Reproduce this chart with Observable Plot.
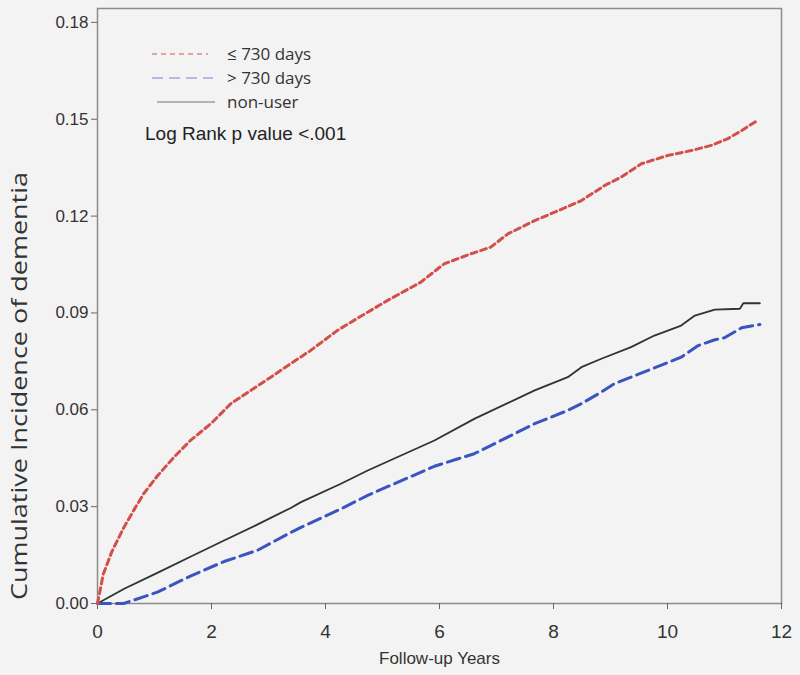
<!DOCTYPE html>
<html><head><meta charset="utf-8">
<script src="https://cdn.jsdelivr.net/npm/d3@7"></script>
<script src="https://cdn.jsdelivr.net/npm/@observablehq/plot@0.6"></script>
<style>
html,body{margin:0;padding:0;background:#f3f3f3;}
#chart{width:800px;height:675px;}
g[aria-label="x-axis tick label"]{font-family:"Liberation Sans Narrow","Liberation Sans",Arial,sans-serif;font-size:19px;}
g[aria-label="y-axis tick label"]{font-family:"Liberation Sans",Arial,sans-serif;font-size:17px;}
</style></head><body><div id="chart"></div>
<script>
// ---- data ----
const seriesNames = ["≤ 730 days", "> 730 days", "non-user"];
const shortYears = [0,0.1,0.25,0.46,0.64,0.81,1.05,1.34,1.63,1.99,2.34,2.69,3.04,3.39,3.74,4.21,4.50,5.09,5.67,6.08,6.55,6.90,7.20,7.67,8.02,8.49,8.90,9.19,9.54,10.01,10.42,10.77,11.06,11.30,11.53,11.59];
const shortIncidence = [0,0.009,0.016,0.0235,0.029,0.034,0.0395,0.0453,0.0505,0.0557,0.0619,0.066,0.0701,0.0743,0.0784,0.0846,0.0877,0.0939,0.0995,0.1052,0.1083,0.1104,0.1145,0.1186,0.1212,0.1248,0.1295,0.1321,0.1362,0.1388,0.1403,0.1419,0.144,0.1465,0.1491,0.1496];
const longYears = [0,0.46,1.05,1.63,2.22,2.81,3.39,3.57,4.27,4.74,5.91,6.61,7.08,7.67,8.25,8.49,8.84,9.07,9.66,10.24,10.54,10.83,11.0,11.30,11.62];
const longIncidence = [0,0,0.0035,0.0085,0.013,0.0165,0.022,0.0236,0.0293,0.0335,0.0425,0.0464,0.0505,0.0557,0.0598,0.0619,0.0655,0.0681,0.0722,0.0763,0.0799,0.0817,0.0823,0.0854,0.0864];
const nonUserYears = [0,0.46,1.05,1.63,2.22,2.81,3.39,3.57,4.27,4.74,5.91,6.61,7.67,8.25,8.49,8.84,9.36,9.77,10.24,10.48,10.83,11.27,11.33,11.62];
const nonUserIncidence = [0,0.0045,0.0095,0.0145,0.0195,0.0245,0.0296,0.0314,0.0371,0.0412,0.0505,0.0572,0.066,0.0701,0.0732,0.0758,0.0794,0.083,0.0861,0.0892,0.091,0.0913,0.093,0.093];
const yTicks = [0,0.03,0.06,0.09,0.12,0.15,0.18];
const xTicks = [0,2,4,6,8,10,12];
const yLabel = "Cumulative Incidence of dementia";
const xLabel = "Follow-up Years";
const testNote = "Log Rank p value <.001";

const rows = (name, xs, ys) => xs.map((x, i) => ({series: name, year: x, value: ys[i]}));
const shortRows = rows(seriesNames[0], shortYears, shortIncidence);
const longRows = rows(seriesNames[1], longYears, longIncidence);
const nonUserRows = rows(seriesNames[2], nonUserYears, nonUserIncidence);

const colors = {short: "#d1504a", long: "#3a55c0", nonuser: "#2c3430"};

const chart = Plot.plot({
  width: 800, height: 675,
  marginLeft: 97, marginRight: 19, marginTop: 8, marginBottom: 72,
  style: {background: "#f3f3f3", fontFamily: "Liberation Sans, Arial, sans-serif", fontSize: "17px", color: "#333"},
  x: {domain: [0, 12]},
  y: {domain: [0, 0.1843]},
  marks: [
    Plot.frame({stroke: "#8c8c8c", strokeWidth: 1.5}),
    Plot.axisY(yTicks, {tickFormat: d3.format(".2f"), tickSize: 6, tickPadding: 3, label: null, stroke: "#666"}),
    Plot.axisX(xTicks, {tickFormat: d => String(d), tickSize: 6, tickPadding: 15, label: null, stroke: "#666"}),
    Plot.line(nonUserRows, {x: "year", y: "value", stroke: colors.nonuser, strokeWidth: 1.8}),
    Plot.line(longRows, {x: "year", y: "value", stroke: colors.long, strokeWidth: 3, strokeDasharray: "13,6"}),
    Plot.line(shortRows, {x: "year", y: "value", stroke: colors.short, strokeWidth: 3, strokeDasharray: "6,4"}),
    Plot.text([xLabel], {text: d => d, frameAnchor: "bottom", dy: 60, fontSize: 17, fontFamily: "Liberation Sans Narrow, Liberation Sans, Arial", fill: "#333"})
  ]
});
document.getElementById("chart").appendChild(chart);

const svg = d3.select(chart);
// y title, stretched along its length as in the reference
svg.append("text")
  .attr("transform", "translate(19,386) rotate(-90)")
  .attr("text-anchor", "middle").attr("dy", "0.35em")
  .attr("font-family", "Open Sans").attr("font-size", 22).attr("fill", "#333")
  .attr("textLength", 428).attr("lengthAdjust", "spacingAndGlyphs")
  .text(yLabel);

// legend (inside plot, top-left)
const lg = svg.append("g").attr("text-anchor", "start");
const legendItems = [
  {name: seriesNames[0], color: "#e3a3a0", dash: "5,4", w: 2, x1: 152, x2: 208, y: 54},
  {name: seriesNames[1], color: "#9aa8de", dash: "11,6", w: 1.5, x1: 152, x2: 213, y: 78},
  {name: seriesNames[2], color: "#777", dash: null, w: 1.2, x1: 157, x2: 215, y: 102}
];
legendItems.forEach(it => {
  lg.append("line").attr("x1", it.x1).attr("x2", it.x2).attr("y1", it.y).attr("y2", it.y)
    .attr("stroke", it.color).attr("stroke-width", it.w).attr("stroke-dasharray", it.dash);
  lg.append("text").attr("x", 227).attr("y", it.y).attr("dy", "0.35em").attr("text-anchor", "start")
    .attr("font-family", "Open Sans").attr("font-size", 17).attr("fill", "#333").text(it.name);
});
lg.append("text").attr("x", 145).attr("y", 133).attr("dy", "0.35em").attr("text-anchor", "start")
  .attr("font-family", "Liberation Sans, Arial").attr("font-size", 19).attr("fill", "#222").text(testNote);
</script>
</body></html>
